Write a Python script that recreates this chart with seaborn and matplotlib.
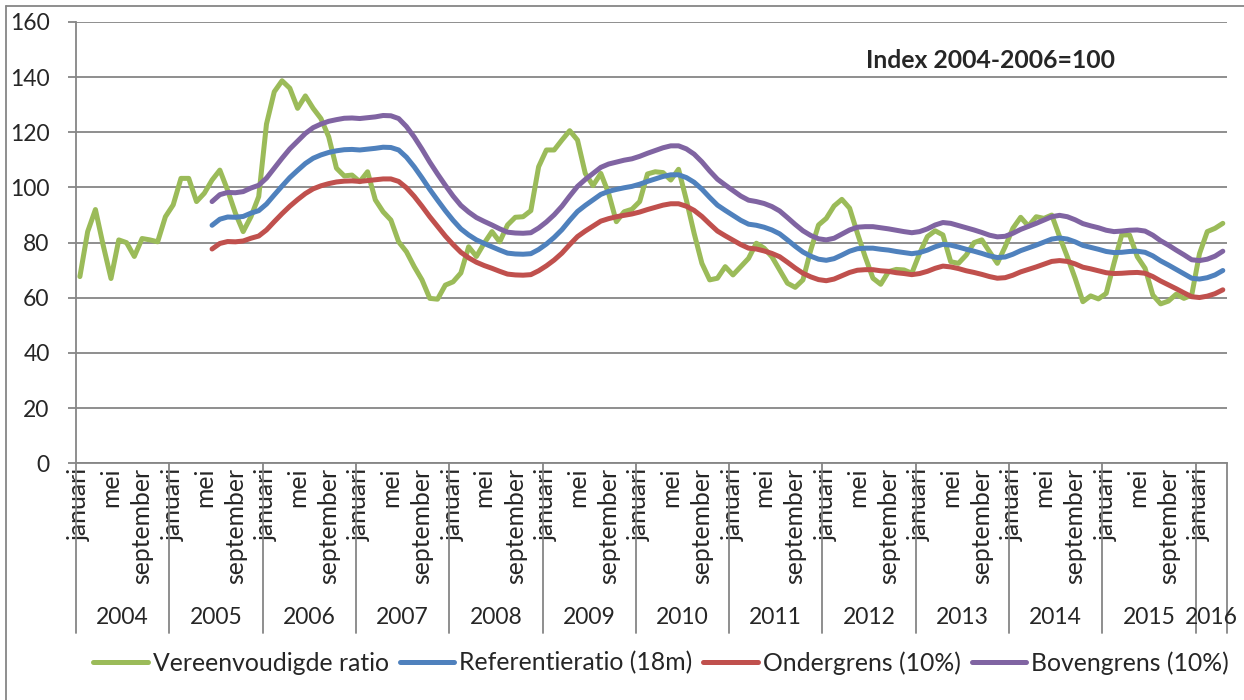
import numpy as np
import pandas as pd
import matplotlib.pyplot as plt
import matplotlib.transforms as mtransforms
from matplotlib.lines import Line2D
import seaborn as sns

# maanden en jaren op de x-as
maanden = ['januari', 'februari', 'maart', 'april', 'mei', 'juni', 'juli',
           'augustus', 'september', 'oktober', 'november', 'december']
jaren = list(range(2004, 2017))
n_maanden = 148          # januari 2004 t/m april 2016
start_ref = 17           # referentiereeksen beginnen in juni 2005

# Vereenvoudigde ratio (maandelijks, jan 2004 - apr 2016)
vereenvoudigd = [
    67.7, 84.0, 92.0, 79.0, 67.0, 81.0, 80.0, 75.0, 81.5, 81.0, 80.3, 89.4,
    93.7, 103.3, 103.3, 94.9, 97.9, 102.7, 106.3, 99.0, 90.7, 84.0, 89.4, 96.7,
    123.0, 134.7, 138.7, 136.0, 128.7, 133.2, 128.7, 125.0, 118.4, 107.0, 104.2, 104.5,
    102.1, 105.7, 95.5, 91.2, 88.2, 80.3, 76.7, 71.3, 66.5, 59.8, 59.5, 64.6,
    65.8, 69.0, 78.5, 75.0, 79.8, 84.0, 80.3, 86.4, 89.2, 89.4, 91.6, 107.5,
    113.6, 113.6, 117.2, 120.6, 117.2, 105.1, 100.7, 105.1, 97.9, 87.6, 91.2, 92.1,
    94.9, 104.9, 105.7, 105.4, 102.7, 106.6, 95.5, 83.4, 72.5, 66.5, 67.1, 71.3,
    68.3, 71.3, 74.3, 79.8, 78.0, 74.9, 70.1, 65.3, 63.8, 66.5, 77.3, 86.4,
    88.8, 93.3, 95.7, 92.5, 83.4, 74.9, 67.1, 64.9, 69.5, 70.3, 70.1, 68.9,
    76.1, 82.2, 84.3, 82.8, 73.1, 72.5, 75.5, 80.0, 81.0, 76.7, 72.5, 78.5,
    85.2, 89.2, 86.0, 89.4, 88.8, 90.0, 82.2, 74.9, 67.1, 58.6, 60.7, 59.6,
    61.6, 72.5, 82.8, 82.8, 74.9, 70.7, 61.0, 57.8, 58.8, 61.3, 59.8, 61.0,
    76.0, 84.0, 85.2, 87.0,
]

# Referentieratio (18m), jun 2005 - apr 2016
referentie = [
    86.3, 88.5, 89.3, 89.2, 89.5, 90.7, 91.6,
    94.0, 97.3, 100.5, 103.6, 106.2, 108.7, 110.6, 111.8, 112.7, 113.3, 113.7, 113.8,
    113.6, 113.9, 114.2, 114.6, 114.5, 113.6, 111.0, 107.5, 103.5, 99.3, 95.4, 91.6,
    88.1, 85.0, 82.8, 81.0, 79.7, 78.5, 77.3, 76.2, 75.9, 75.8, 76.0, 77.5,
    79.5, 81.9, 84.7, 88.1, 91.3, 93.5, 95.5, 97.5, 98.6, 99.3, 99.9, 100.4,
    101.2, 102.2, 103.1, 104.0, 104.6, 104.6, 103.6, 101.9, 99.4, 96.4, 93.6, 91.7,
    89.9, 88.1, 86.7, 86.3, 85.6, 84.6, 83.2, 81.0, 78.7, 76.6, 75.1, 74.0,
    73.6, 74.2, 75.5, 76.9, 77.8, 78.0, 78.0, 77.6, 77.3, 76.8, 76.4, 76.0,
    76.4, 77.3, 78.5, 79.4, 79.1, 78.4, 77.6, 76.9, 76.1, 75.2, 74.6, 74.8,
    75.8, 77.1, 78.1, 79.1, 80.2, 81.3, 81.7, 81.3, 80.3, 79.0, 78.3, 77.6,
    76.8, 76.4, 76.5, 76.8, 76.9, 76.5, 75.2, 73.4, 71.9, 70.3, 68.7, 67.1,
    66.8, 67.3, 68.3, 69.9,
]

# Ondergrens (10%)
ondergrens = [
    77.7, 79.7, 80.4, 80.3, 80.6, 81.6, 82.4,
    84.6, 87.6, 90.5, 93.2, 95.6, 97.8, 99.5, 100.6, 101.4, 102.0, 102.3, 102.4,
    102.2, 102.5, 102.8, 103.1, 103.1, 102.2, 99.9, 96.8, 93.2, 89.4, 85.9, 82.4,
    79.3, 76.5, 74.5, 72.9, 71.7, 70.7, 69.6, 68.6, 68.3, 68.2, 68.4, 69.8,
    71.6, 73.7, 76.2, 79.3, 82.2, 84.2, 86.0, 87.8, 88.7, 89.4, 89.9, 90.4,
    91.1, 92.0, 92.8, 93.6, 94.1, 94.1, 93.2, 91.7, 89.5, 86.8, 84.2, 82.5,
    80.9, 79.3, 78.0, 77.7, 77.0, 76.1, 74.9, 72.9, 70.8, 68.9, 67.6, 66.6,
    66.2, 66.8, 68.0, 69.2, 70.0, 70.2, 70.2, 69.8, 69.6, 69.1, 68.8, 68.4,
    68.8, 69.6, 70.7, 71.5, 71.2, 70.6, 69.8, 69.2, 68.5, 67.7, 67.1, 67.3,
    68.2, 69.4, 70.3, 71.2, 72.2, 73.2, 73.5, 73.2, 72.3, 71.1, 70.5, 69.8,
    69.1, 68.8, 68.9, 69.1, 69.2, 68.9, 67.7, 66.1, 64.7, 63.3, 61.8, 60.4,
    60.1, 60.6, 61.5, 62.9,
]

# Bovengrens (10%)
bovengrens = [
    94.9, 97.4, 98.2, 98.1, 98.5, 99.8, 100.8,
    103.4, 107.0, 110.6, 114.0, 116.8, 119.6, 121.7, 123.0, 124.0, 124.6, 125.1, 125.2,
    125.0, 125.3, 125.6, 126.1, 126.0, 125.0, 122.1, 118.3, 113.9, 109.2, 104.9, 100.8,
    96.9, 93.5, 91.1, 89.1, 87.7, 86.4, 85.0, 83.8, 83.5, 83.4, 83.6, 85.3,
    87.5, 90.1, 93.2, 96.9, 100.4, 102.9, 105.1, 107.3, 108.5, 109.2, 109.9, 110.4,
    111.3, 112.4, 113.4, 114.4, 115.1, 115.1, 114.0, 112.1, 109.3, 106.0, 103.0, 100.9,
    98.9, 96.9, 95.4, 94.9, 94.2, 93.1, 91.5, 89.1, 86.6, 84.3, 82.6, 81.4,
    81.0, 81.6, 83.1, 84.6, 85.6, 85.8, 85.8, 85.4, 85.0, 84.5, 84.0, 83.6,
    84.0, 85.0, 86.4, 87.3, 87.0, 86.2, 85.4, 84.6, 83.7, 82.7, 82.1, 82.3,
    83.4, 84.8, 85.9, 87.0, 88.2, 89.4, 89.9, 89.4, 88.3, 86.9, 86.1, 85.4,
    84.5, 84.0, 84.2, 84.5, 84.6, 84.2, 82.7, 80.7, 79.1, 77.3, 75.6, 73.8,
    73.5, 74.0, 75.1, 76.9,
]

reeksen = ['Vereenvoudigde ratio', 'Referentieratio (18m)', 'Ondergrens (10%)', 'Bovengrens (10%)']
kleuren = ['#9BBB59', '#4F81BD', '#C0504D', '#8064A2']

# lange tabel voor seaborn
ref_maanden = np.arange(start_ref, n_maanden)
df = pd.concat([
    pd.DataFrame({'maand': np.arange(n_maanden), 'waarde': vereenvoudigd, 'reeks': reeksen[0]}),
    pd.DataFrame({'maand': ref_maanden, 'waarde': referentie, 'reeks': reeksen[1]}),
    pd.DataFrame({'maand': ref_maanden, 'waarde': ondergrens, 'reeks': reeksen[2]}),
    pd.DataFrame({'maand': ref_maanden, 'waarde': bovengrens, 'reeks': reeksen[3]}),
])

sns.set_style("white")
plt.rcParams['font.family'] = ['Lato', 'DejaVu Sans']
plt.rcParams['lines.solid_joinstyle'] = 'round'
plt.rcParams['lines.solid_capstyle'] = 'round'

fs = 17.8       # tekst
fs_cijfers = 16.5

W, H = 1244, 700
fig = plt.figure(figsize=(W / 100, H / 100), dpi=100)
ax = fig.add_axes([76 / W, 1 - 463.3 / H, (1226.7 - 76) / W, (463.3 - 22) / H])

sns.lineplot(data=df, x='maand', y='waarde', hue='reeks', hue_order=reeksen,
             palette=kleuren, linewidth=3.6, estimator=None, sort=True, ax=ax)

grijs = '#868686'
ax.set_xlim(-0.5, n_maanden - 0.5)
ax.set_ylim(0, 160)
ax.set_yticks(range(0, 161, 20))
ax.grid(axis='y', color=grijs, linewidth=1.3)
ax.set_axisbelow(True)
for s in ['top', 'right']:
    ax.spines[s].set_visible(False)
for s in ['left', 'bottom']:
    ax.spines[s].set_color(grijs)
    ax.spines[s].set_linewidth(1.3)
ax.tick_params(axis='y', direction='out', length=6, width=1.3, color=grijs,
               labelsize=fs_cijfers, pad=13, left=True)
ax.set_xlabel('')
ax.set_ylabel('')

# maandlabels: elke vierde maand
posities = [i for i in range(n_maanden) if i % 4 == 0]
labels = [maanden[i % 12] for i in posities]
ax.set_xticks(posities)
ax.set_xticklabels(labels, rotation=90, fontsize=fs)
ax.tick_params(axis='x', length=0, pad=3)

# jaarlabels en scheidingslijnen
trans = mtransforms.blended_transform_factory(ax.transData, ax.transAxes)
y_onder = -(633 - 463.3) / (463.3 - 22)
y_jaar = -(618 - 463.3) / (463.3 - 22)
grenzen = [j * 12 - 0.5 for j in range(len(jaren))] + [n_maanden - 0.5]
for x in grenzen:
    ax.add_line(Line2D([x, x], [0, y_onder], transform=trans, color=grijs,
                       linewidth=1.3, clip_on=False))
for j, jaar in enumerate(jaren):
    links, rechts = grenzen[j], grenzen[j + 1]
    ax.text((links + rechts) / 2, y_jaar, str(jaar), transform=trans,
            ha='center', va='center', fontsize=fs_cijfers)

# titel binnen de grafiek
fig.text(990 / W, 1 - 60 / H, 'Index 2004-2006=100', ha='center', va='center',
         fontsize=fs, fontweight='bold')

# legenda onderaan
handles, lbls = ax.get_legend_handles_labels()
ax.get_legend().remove()
fig.legend(handles, lbls, loc='center', bbox_to_anchor=(661 / W, 1 - 663 / H),
           ncol=4, frameon=False, fontsize=fs, handlelength=2.2,
           handletextpad=0.2, columnspacing=0.45)

# kader rond de figuur
fig.add_artist(Line2D([6 / W, 6 / W], [0, 1 - 6 / H], transform=fig.transFigure,
                      color=grijs, linewidth=1.3))
fig.add_artist(Line2D([6 / W, 1], [1 - 6 / H, 1 - 6 / H], transform=fig.transFigure,
                      color=grijs, linewidth=1.3))

fig.savefig('out.png', dpi=100)
